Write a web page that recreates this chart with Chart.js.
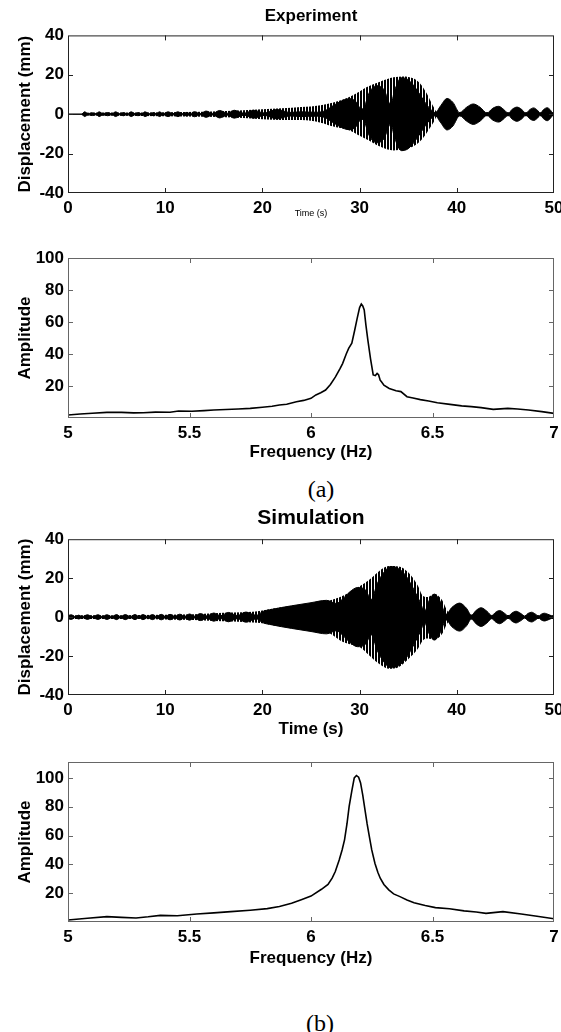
<!DOCTYPE html>
<html>
<head>
<meta charset="utf-8">
<script src="https://cdn.jsdelivr.net/npm/chart.js@4.4.1/dist/chart.umd.min.js"></script>
<style>
  body { margin: 0; background: #fff; width: 561px; height: 1032px; position: relative; overflow: hidden; }
  canvas { position: absolute; left: 0; }
  .cap { position: absolute; font-family: "Liberation Serif", "Times New Roman", serif; font-size: 24px; transform: translate(-50%, -50%); }
</style>
</head>
<body>
<canvas id="expTime" width="561" height="219" style="top:0"></canvas>
<canvas id="expFreq" width="561" height="231" style="top:232px"></canvas>
<div class="cap" style="left:321px;top:489px">(a)</div>
<canvas id="simTime" width="561" height="240" style="top:500px"></canvas>
<canvas id="simFreq" width="561" height="229" style="top:740px"></canvas>
<div class="cap" style="left:320px;top:1023px">(b)</div>

<script>
// ---- data ----
// time response, experiment: outer (striped) envelope + beat lobes (black)
const expOuterT  = [0, 1.3, 1.6, 5, 10, 14, 17, 20, 22, 24, 26, 27.3, 29, 30, 30.7, 32.1, 33.5, 34.5, 35.5, 36.2, 36.9, 37.6, 38.0, 50];
const expOuterUp = [0, 0, 0.7, 0.8, 1.0, 1.3, 1.7, 2.5, 3.0, 3.6, 4.6, 5.9, 8.8, 11.5, 13.7, 16.5, 18.7, 19.2, 18.2, 15.7, 10.6, 3.8, 1.0, 1.0];
const expOuterLo = [0, 0, -0.7, -0.8, -1.0, -1.3, -1.7, -2.5, -2.9, -3.0, -4.3, -6.3, -8.3, -11.0, -12.7, -16.4, -18.4, -17.8, -16.4, -13.9, -9.5, -4.2, -1.0, -1.0];

const expLobeT = [0, 1.4, 1.7, 2.1, 2.5, 2.9, 3.2, 3.6, 4.1, 4.5, 4.9, 5.3, 5.7, 6.1, 6.5, 6.9, 7.2, 7.6, 7.9, 8.4, 8.8, 9.1, 9.4, 9.8,
  10.3, 10.8, 11.3, 11.8, 12.2, 12.6, 13.0, 13.6, 14.2, 14.9, 15.6, 16.4, 17.1, 18.1, 19.1, 20.2, 21.5, 22.8, 24.0, 25.5, 26.3,
  27.5, 28.4, 29.0, 29.6, 30.2, 30.5, 31.0, 31.8, 32.5, 33.2, 33.6, 34.3, 35.0, 35.8, 36.6, 37.3, 37.8, 38.3, 39.0, 39.6, 40.3,
  41.0, 41.7, 42.4, 43.1, 43.7, 44.3, 44.8, 45.3, 45.7, 46.2, 46.7, 47.1, 47.5, 47.9, 48.3, 48.6, 48.9, 49.3, 49.6, 49.9, 50];
const expLobeA = [0, 0, 1.2, 0.3, 0.7, 0.2, 1.2, 0.3, 0.8, 0.2, 1.2, 0.3, 0.8, 0.2, 1.2, 0.3, 0.8, 0.2, 1.2, 0.3, 0.8, 0.2, 1.2, 0.3,
  1.2, 0.3, 1.2, 0.3, 0.9, 0.3, 1.3, 0.3, 1.6, 0.4, 1.9, 0.5, 2.0, 0.5, 2.0, 0.6, 2.4, 0.9, 1.2, 1.0, 1.5,
  5.0, 7.3, 7.9, 6.5, 2.5, 4.0, 11.0, 14.5, 12.5, 5.0, 12.0, 18.5, 17.5, 13.0, 7.0, 2.5, 0.8, 4.0, 8.0, 6.0, 0.8,
  3.5, 5.2, 3.5, 0.6, 3.0, 4.0, 2.5, 0.5, 2.5, 3.6, 2.3, 0.5, 2.3, 3.2, 2.0, 0.5, 2.2, 3.3, 2.3, 0.5, 0.5];

// time response, simulation
const simOuterT  = [0, 1, 5, 10, 13, 15, 17, 19, 20, 22, 25, 27, 28, 29, 30, 31, 32, 33, 34, 35, 36, 36.5, 37, 37.7, 38.5, 39.0, 39.5, 50];
const simOuterUp = [1.0, 1.0, 1.0, 1.2, 1.5, 2.0, 2.3, 2.8, 3.4, 5.0, 6.9, 8.6, 10.3, 12.8, 15.8, 19.2, 23.6, 26.2, 26.0, 23.0, 16.1, 11.0, 10.3, 12.0, 8.6, 3.4, 1.2, 1.0];
const simOuterLo = [-1.0, -1.0, -1.0, -1.2, -1.5, -2.0, -2.3, -2.8, -3.1, -5.0, -6.5, -8.6, -12.0, -14.0, -15.4, -19.7, -24.0, -26.5, -25.7, -21.6, -16.3, -12.0, -11.0, -11.6, -8.6, -3.4, -1.2, -1.0];

const simLobeT = [0, 0.35, 0.7, 1.1, 1.5, 2.0, 2.5, 3.1, 3.5, 4.0, 4.5, 5.0, 5.4, 5.9, 6.4, 6.9, 7.3, 7.7, 8.2, 8.7, 9.1, 9.6,
  10.0, 10.5, 11.0, 11.5, 12.0, 12.5, 13.0, 13.6, 14.3, 15.0, 15.7, 16.5, 17.4, 18.3, 19.4, 20.0, 21.0, 23.0, 25.0, 26.6,
  27.6, 28.3, 29.0, 29.8, 30.6, 31.2, 31.8, 32.5, 33.2, 34.0, 34.8, 35.6, 36.2, 36.7, 37.1, 37.7, 38.3, 38.9, 39.5, 40.3,
  41.0, 41.5, 42.0, 42.5, 43.1, 43.6, 44.0, 44.4, 44.9, 45.3, 45.7, 46.1, 46.6, 47.0, 47.3, 47.7, 48.1, 48.4, 48.7, 49.0, 49.5, 49.9, 50];
const simLobeA = [0.8, 1.2, 0.3, 1.0, 0.3, 1.2, 0.3, 1.2, 0.3, 1.2, 0.3, 1.3, 0.3, 1.3, 0.3, 1.3, 0.3, 1.3, 0.3, 1.3, 0.3, 1.4,
  0.4, 1.4, 0.4, 1.5, 0.4, 1.6, 0.5, 1.8, 0.6, 2.1, 0.7, 2.4, 0.8, 2.6, 0.9, 2.8, 4.0, 5.8, 7.4, 8.6,
  7.0, 9.5, 13.0, 15.2, 14.0, 9.0, 17.0, 23.0, 26.0, 25.0, 21.0, 14.0, 8.0, 3.0, 8.0, 11.8, 8.0, 1.5, 5.0, 7.2,
  4.5, 1.0, 3.5, 4.8, 3.0, 0.8, 2.5, 3.4, 2.0, 0.6, 2.2, 3.0, 1.8, 0.5, 1.8, 2.5, 1.5, 0.5, 1.5, 2.0, 1.2, 0.5, 0.5];

// spectra
const expFreq = [5.00, 5.05, 5.10, 5.16, 5.22, 5.27, 5.31, 5.36, 5.42, 5.455, 5.51, 5.56, 5.60, 5.65, 5.70, 5.75, 5.80, 5.84, 5.87, 5.90,
  5.94, 5.97, 6.00, 6.02, 6.04, 6.06, 6.08, 6.10, 6.12, 6.13, 6.145, 6.155, 6.168, 6.18, 6.19, 6.20, 6.207, 6.213, 6.219, 6.226,
  6.234, 6.245, 6.256, 6.265, 6.272, 6.278, 6.285, 6.29, 6.30, 6.322, 6.35, 6.37, 6.395, 6.42, 6.45, 6.484, 6.52, 6.572, 6.62,
  6.66, 6.70, 6.75, 6.81, 6.85, 6.895, 6.95, 7.00];
const expAmp = [1.9, 2.5, 3.0, 3.5, 3.5, 3.2, 3.3, 3.7, 3.6, 4.4, 4.2, 4.6, 5.0, 5.3, 5.6, 6.0, 6.7, 7.3, 8.1, 8.6,
  10.2, 11.0, 12.3, 14.4, 15.8, 17.5, 21.0, 25.5, 31, 34, 40, 43.5, 46.7, 55, 62.3, 69, 71.2, 70, 67.5, 58,
  48.7, 37, 26.9, 26.5, 27.9, 27.0, 23.5, 22.7, 20.5, 18.5, 17, 16.5, 13.3, 12.5, 11.5, 10.6, 9.5, 8.5, 7.6,
  7.1, 6.5, 5.4, 6.0, 5.6, 5.0, 4.0, 2.9];

const simFreq = [5.00, 5.08, 5.16, 5.22, 5.28, 5.33, 5.38, 5.45, 5.53, 5.60, 5.67, 5.75, 5.82, 5.87, 5.92, 5.96, 6.00, 6.043, 6.07, 6.087,
  6.10, 6.116, 6.128, 6.138, 6.148, 6.157, 6.168, 6.178, 6.187, 6.196, 6.204, 6.213, 6.222, 6.231, 6.24, 6.25, 6.263, 6.275, 6.285,
  6.30, 6.32, 6.34, 6.366, 6.395, 6.424, 6.47, 6.512, 6.57, 6.63, 6.68, 6.72, 6.79, 6.865, 6.93, 7.00];
const simAmp = [1.4, 2.6, 3.7, 3.2, 2.8, 3.6, 4.6, 4.3, 5.6, 6.3, 7.2, 8.2, 9.3, 10.8, 13.0, 15.5, 18.0, 22.7, 26.0, 30.4,
  35, 43, 50, 57, 68, 80.2, 91, 100, 101.6, 100.5, 96.5, 88, 78, 68, 59.4, 50, 40.8, 34.5, 30.4,
  26, 22.3, 19.5, 17.6, 15.3, 13.4, 11.5, 10.0, 9.2, 7.7, 6.9, 6.0, 7.2, 5.6, 4.0, 2.3];

const ampTicks = [20, 40, 60, 80, 100];

// ---- helpers ----
const FONT = '"Liberation Sans", Arial, Helvetica, sans-serif';
Chart.defaults.font.family = FONT;
Chart.defaults.color = '#000';

const pts = (xs, ys) => xs.map((x, i) => ({ x: x, y: ys[i] }));
const neg = a => a.map(v => -v);

// vertical stripe fill, like the aliased oscillation in the original
function stripes() {
  const c = document.createElement('canvas');
  c.width = 3; c.height = 1;
  const g = c.getContext('2d');
  g.fillStyle = '#000'; g.fillRect(0, 0, 2, 1);
  g.fillStyle = '#fff'; g.fillRect(2, 0, 1, 1);
  return g.createPattern(c, 'repeat');
}

// box around the plot with inward tick marks on all four sides
const framePlugin = {
  id: 'frame',
  afterDatasetsDraw(chart, args, opts) {
    const { ctx, chartArea: a } = chart;
    const x = chart.scales.x, y = chart.scales.y;
    const len = 5;
    ctx.save();
    ctx.strokeStyle = opts.color || '#000';
    ctx.lineWidth = 1;
    ctx.strokeRect(a.left + 0.5, a.top + 0.5, a.right - a.left - 1, a.bottom - a.top - 1);
    ctx.beginPath();
    x.ticks.forEach(t => {
      const px = Math.round(x.getPixelForValue(t.value)) + 0.5;
      if (px <= a.left + 2 || px >= a.right - 2) return;
      ctx.moveTo(px, a.top); ctx.lineTo(px, a.top + len);
      ctx.moveTo(px, a.bottom); ctx.lineTo(px, a.bottom - len);
    });
    y.ticks.forEach(t => {
      const py = Math.round(y.getPixelForValue(t.value)) + 0.5;
      if (py <= a.top + 2 || py >= a.bottom - 2) return;
      ctx.moveTo(a.left, py); ctx.lineTo(a.left + len, py);
      ctx.moveTo(a.right, py); ctx.lineTo(a.right - len, py);
    });
    ctx.stroke();
    ctx.restore();
  }
};

const tickFont = { size: 17, weight: 'bold' };
const numLabel = v => String(Number(v.toFixed(2)));

function xAxis(min, max, step, title, titleFont, height) {
  return {
    type: 'linear', min: min, max: max,
    grid: { display: false, drawTicks: false },
    border: { display: false },
    ticks: { stepSize: step, padding: 5, maxRotation: 0, autoSkip: false, font: tickFont, callback: numLabel },
    title: { display: true, text: title, font: titleFont, padding: { top: 0, bottom: 0 } },
    afterFit(s) { s.height = height; s.paddingLeft = 0; s.paddingRight = 0; }
  };
}

function yAxis(min, max, title, tickValues) {
  return {
    type: 'linear', min: min, max: max,
    grid: { display: false, drawTicks: false },
    border: { display: false },
    ticks: { stepSize: 20, padding: 4, autoSkip: false, font: tickFont, callback: numLabel },
    title: { display: true, text: title, font: { size: 17, weight: 'bold' }, padding: { top: 15, bottom: 0 } },
    afterBuildTicks(s) {
      if (tickValues) s.ticks = tickValues.filter(v => v <= max).map(v => ({ value: v }));
    },
    afterFit(s) { s.width = 68; s.paddingTop = 0; s.paddingBottom = 0; }
  };
}

function baseOptions(padTop, title, scales, frameColor) {
  return {
    responsive: false,
    animation: false,
    events: [],
    layout: { padding: { left: 0, right: 7, top: padTop, bottom: 0 } },
    plugins: {
      legend: { display: false },
      tooltip: { enabled: false },
      title: title,
      frame: { color: frameColor }
    },
    scales: scales
  };
}

function timeChart(id, title, lobeT, lobeA, outT, outUp, outLo, timeTitle) {
  const fillPattern = stripes();
  const line = { pointRadius: 0, cubicInterpolationMode: 'monotone' };
  new Chart(document.getElementById(id), {
    type: 'line',
    data: {
      datasets: [
        { ...line, data: pts(lobeT, lobeA), fill: '+1', backgroundColor: '#000', borderColor: '#000', borderWidth: 1 },
        { ...line, data: pts(lobeT, neg(lobeA)), fill: false, borderColor: '#000', borderWidth: 1 },
        { ...line, data: pts(outT, outUp), fill: '+1', backgroundColor: fillPattern, borderColor: 'rgba(0,0,0,0)', borderWidth: 1 },
        { ...line, data: pts(outT, outLo), fill: false, borderColor: 'rgba(0,0,0,0)', borderWidth: 1 }
      ]
    },
    options: baseOptions(0, title, {
      x: xAxis(0, 50, 10, 'Time (s)', timeTitle.font, timeTitle.height),
      y: yAxis(-40, 40, 'Displacement (mm)', null)
    }, '#222'),
    plugins: [framePlugin]
  });
}

function freqChart(id, freq, amp, yMax, padTop, xHeight) {
  new Chart(document.getElementById(id), {
    type: 'line',
    data: {
      datasets: [
        { data: pts(freq, amp), borderColor: '#000', borderWidth: 1.6, pointRadius: 0, tension: 0, fill: false }
      ]
    },
    options: baseOptions(padTop, { display: false }, {
      x: xAxis(5, 7, 0.5, 'Frequency (Hz)', { size: 17, weight: 'bold' }, xHeight),
      y: yAxis(0, yMax, 'Amplitude', ampTicks)
    }, '#666'),
    plugins: [framePlugin]
  });
}

// ---- panels ----
timeChart('expTime',
  { display: true, text: 'Experiment', fullSize: false, font: { size: 17, weight: 'bold' }, padding: { top: 6, bottom: 9 } },
  expLobeT, expLobeA, expOuterT, expOuterUp, expOuterLo,
  { font: { size: 9, weight: 'normal' }, height: 26 });

freqChart('expFreq', expFreq, expAmp, 100, 26, 45);

timeChart('simTime',
  { display: true, text: 'Simulation', fullSize: false, font: { size: 21, weight: 'bold' }, padding: { top: 6, bottom: 8 } },
  simLobeT, simLobeA, simOuterT, simOuterUp, simOuterLo,
  { font: { size: 17, weight: 'bold' }, height: 45 });

freqChart('simFreq', simFreq, simAmp, 111, 22, 47);
</script>
</body>
</html>
